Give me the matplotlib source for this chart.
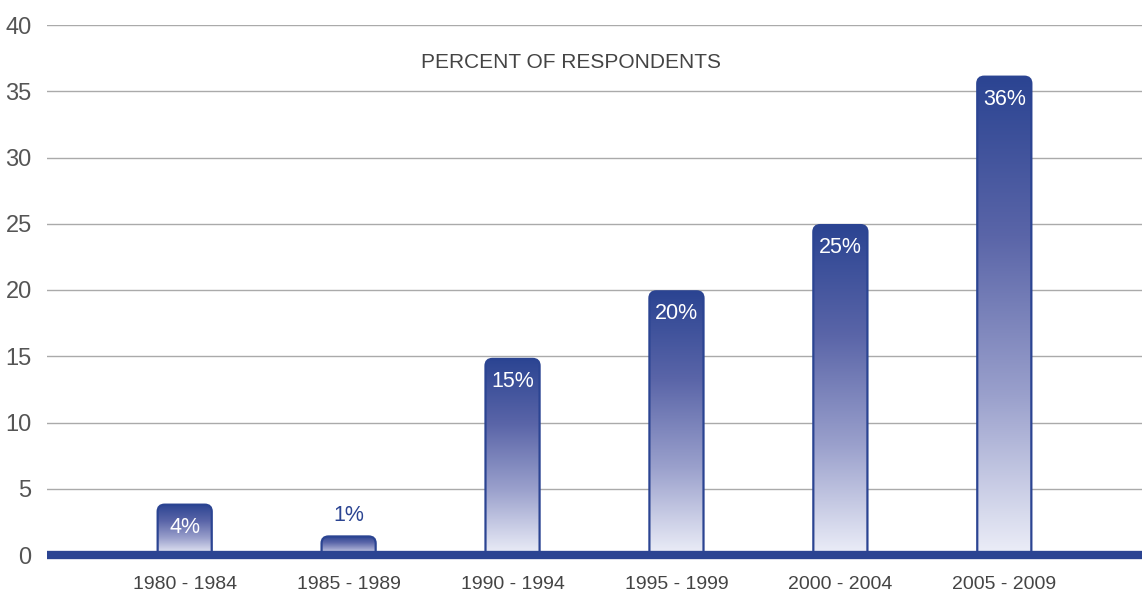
import numpy as np
import matplotlib
matplotlib.use("Agg")
import matplotlib.pyplot as plt
from matplotlib.patches import FancyBboxPatch
from matplotlib.colors import LinearSegmentedColormap

categories = ["1980 - 1984", "1985 - 1989", "1990 - 1994", "1995 - 1999", "2000 - 2004", "2005 - 2009"]
heights = [3.8, 1.4, 14.8, 19.9, 24.9, 36.1]
labels = ["4%", "1%", "15%", "20%", "25%", "36%"]
yticks = [0, 5, 10, 15, 20, 25, 30, 35, 40]
title = "PERCENT OF RESPONDENTS"

plt.rcParams['font.family'] = ['Liberation Sans', 'DejaVu Sans']

W, H = 1142, 591
fig = plt.figure(figsize=(W/100, H/100), dpi=100)
ax = fig.add_axes([47/W, 36/H, (W-47)/W, 530/H])

blue = "#2b4492"
cmap = LinearSegmentedColormap.from_list("g", ["#eceef8", "#9aa0cc", "#5a65a8", blue])

xlim = (-0.84, 5.84)
ylim = (0, 40)
px_x = (W - 47) / (xlim[1] - xlim[0])
px_y = 530 / (ylim[1] - ylim[0])
aspect = px_x / px_y

bw = 0.33
grad = np.linspace(0, 1, 256).reshape(-1, 1)
for i, (h, lab) in enumerate(zip(heights, labels)):
    x0 = i - bw/2
    r = 7 / px_x
    patch = FancyBboxPatch((x0, -0.5), bw, h + 0.5,
                           boxstyle=f"round,pad=0,rounding_size={r}",
                           mutation_aspect=aspect,
                           facecolor="none", edgecolor=blue, linewidth=1.6, zorder=3)
    ax.add_patch(patch)
    im = ax.imshow(grad, cmap=cmap, origin="lower", aspect="auto",
                   extent=[x0, x0 + bw, 0, h], zorder=2, interpolation="bilinear")
    im.set_clip_path(patch)
    if h > 3:
        ax.text(i, h - 1.7, lab, ha="center", va="center", color="white", fontsize=15.5, zorder=4)
    else:
        ax.text(i, h + 1.6, lab, ha="center", va="center", color=blue, fontsize=15.5, zorder=4)

ax.set_xlim(*xlim)
ax.set_ylim(*ylim)
ax.set_yticks(yticks)
ax.set_yticklabels([str(t) for t in yticks])
ax.set_xticks(range(len(categories)))
ax.set_xticklabels(categories)
ax.tick_params(axis="y", length=0, pad=11, labelsize=17, labelcolor="#555555")
ax.tick_params(axis="x", length=0, pad=15, labelsize=14, labelcolor="#444444")
for s in ax.spines.values():
    s.set_visible(False)
for t in yticks[1:]:
    ax.axhline(t, color="#aaaaaa", lw=1, zorder=1)
ax.axhline(0, color=blue, lw=6, zorder=5, clip_on=False, solid_capstyle="butt")

fig.text(571/W, 1 - 62/H, title, ha="center", va="center", fontsize=15, color="#444444")

fig.savefig("out.png", dpi=100)
